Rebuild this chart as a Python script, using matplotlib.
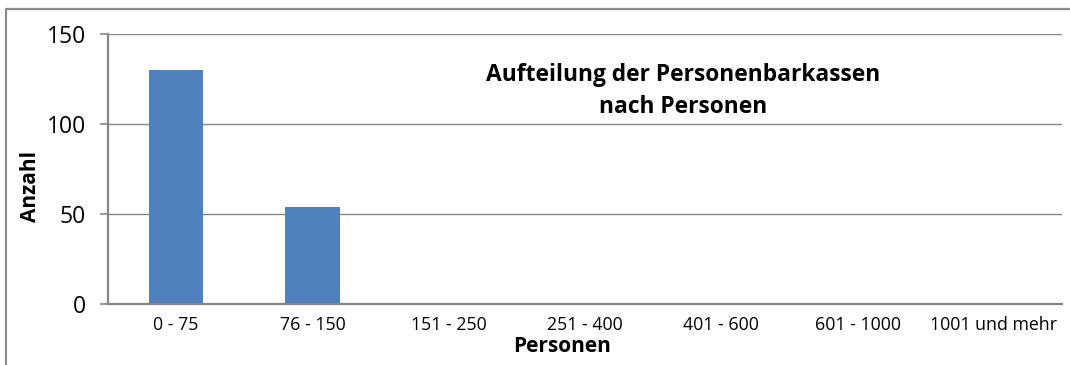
import numpy as np
import matplotlib
matplotlib.use('Agg')
import matplotlib.pyplot as plt
from matplotlib.lines import Line2D

plt.rcParams['font.family'] = ['Open Sans', 'DejaVu Sans']

bar_blue = '#4F81BD'
grid_grey = '#868686'

categories = ['0 - 75', '76 - 150', '151 - 250', '251 - 400',
              '401 - 600', '601 - 1000', '1001 und mehr']
counts = [130, 54, 0, 0, 0, 0, 0]
y_ticks = [0, 50, 100, 150]

fig = plt.figure(figsize=(10.7, 3.65), dpi=100)
ax = fig.add_axes([108 / 1070, 1 - 304 / 365, 954 / 1070, 270 / 365])

x = np.arange(len(categories))
ax.bar(x, counts, width=0.4, color=bar_blue, zorder=3)

ax.set_xlim(-0.5, len(categories) - 0.5)
ax.set_ylim(0, 150)
ax.set_yticks(y_ticks)
ax.set_xticks(x)
ax.set_xticklabels(categories)

ax.yaxis.grid(True, color=grid_grey, lw=1.0, zorder=0)
ax.set_axisbelow(True)
for side in ['top', 'right']:
    ax.spines[side].set_visible(False)
for side in ['left', 'bottom']:
    ax.spines[side].set_color(grid_grey)
    ax.spines[side].set_linewidth(1.6)
    ax.spines[side].set_zorder(4)

ax.tick_params(axis='y', length=6, width=1.2, color=grid_grey,
               labelsize=16.5, pad=10)
ax.tick_params(axis='x', length=0, labelsize=12.8, pad=9)

fig.text(683 / 1070, 1 - 91 / 365, 'Aufteilung der Personenbarkassen\nnach Personen',
         ha='center', va='center', fontsize=16.4, fontweight='bold',
         linespacing=1.45)

fig.text(30 / 1070, 1 - 186 / 365, 'Anzahl', rotation=90,
         ha='center', va='center', fontsize=15, fontweight='bold')
fig.text(562 / 1070, 1 - 352 / 365, 'Personen',
         ha='center', va='baseline', fontsize=15, fontweight='bold')

# chart frame (only left and top edges fall inside the image)
fig.add_artist(Line2D([5.5 / 1070, 5.5 / 1070, 1.0],
                      [0.0, 1 - 9 / 365, 1 - 9 / 365],
                      transform=fig.transFigure, color='#8C8C8C', lw=1.6))

fig.savefig('out.png', dpi=100)
